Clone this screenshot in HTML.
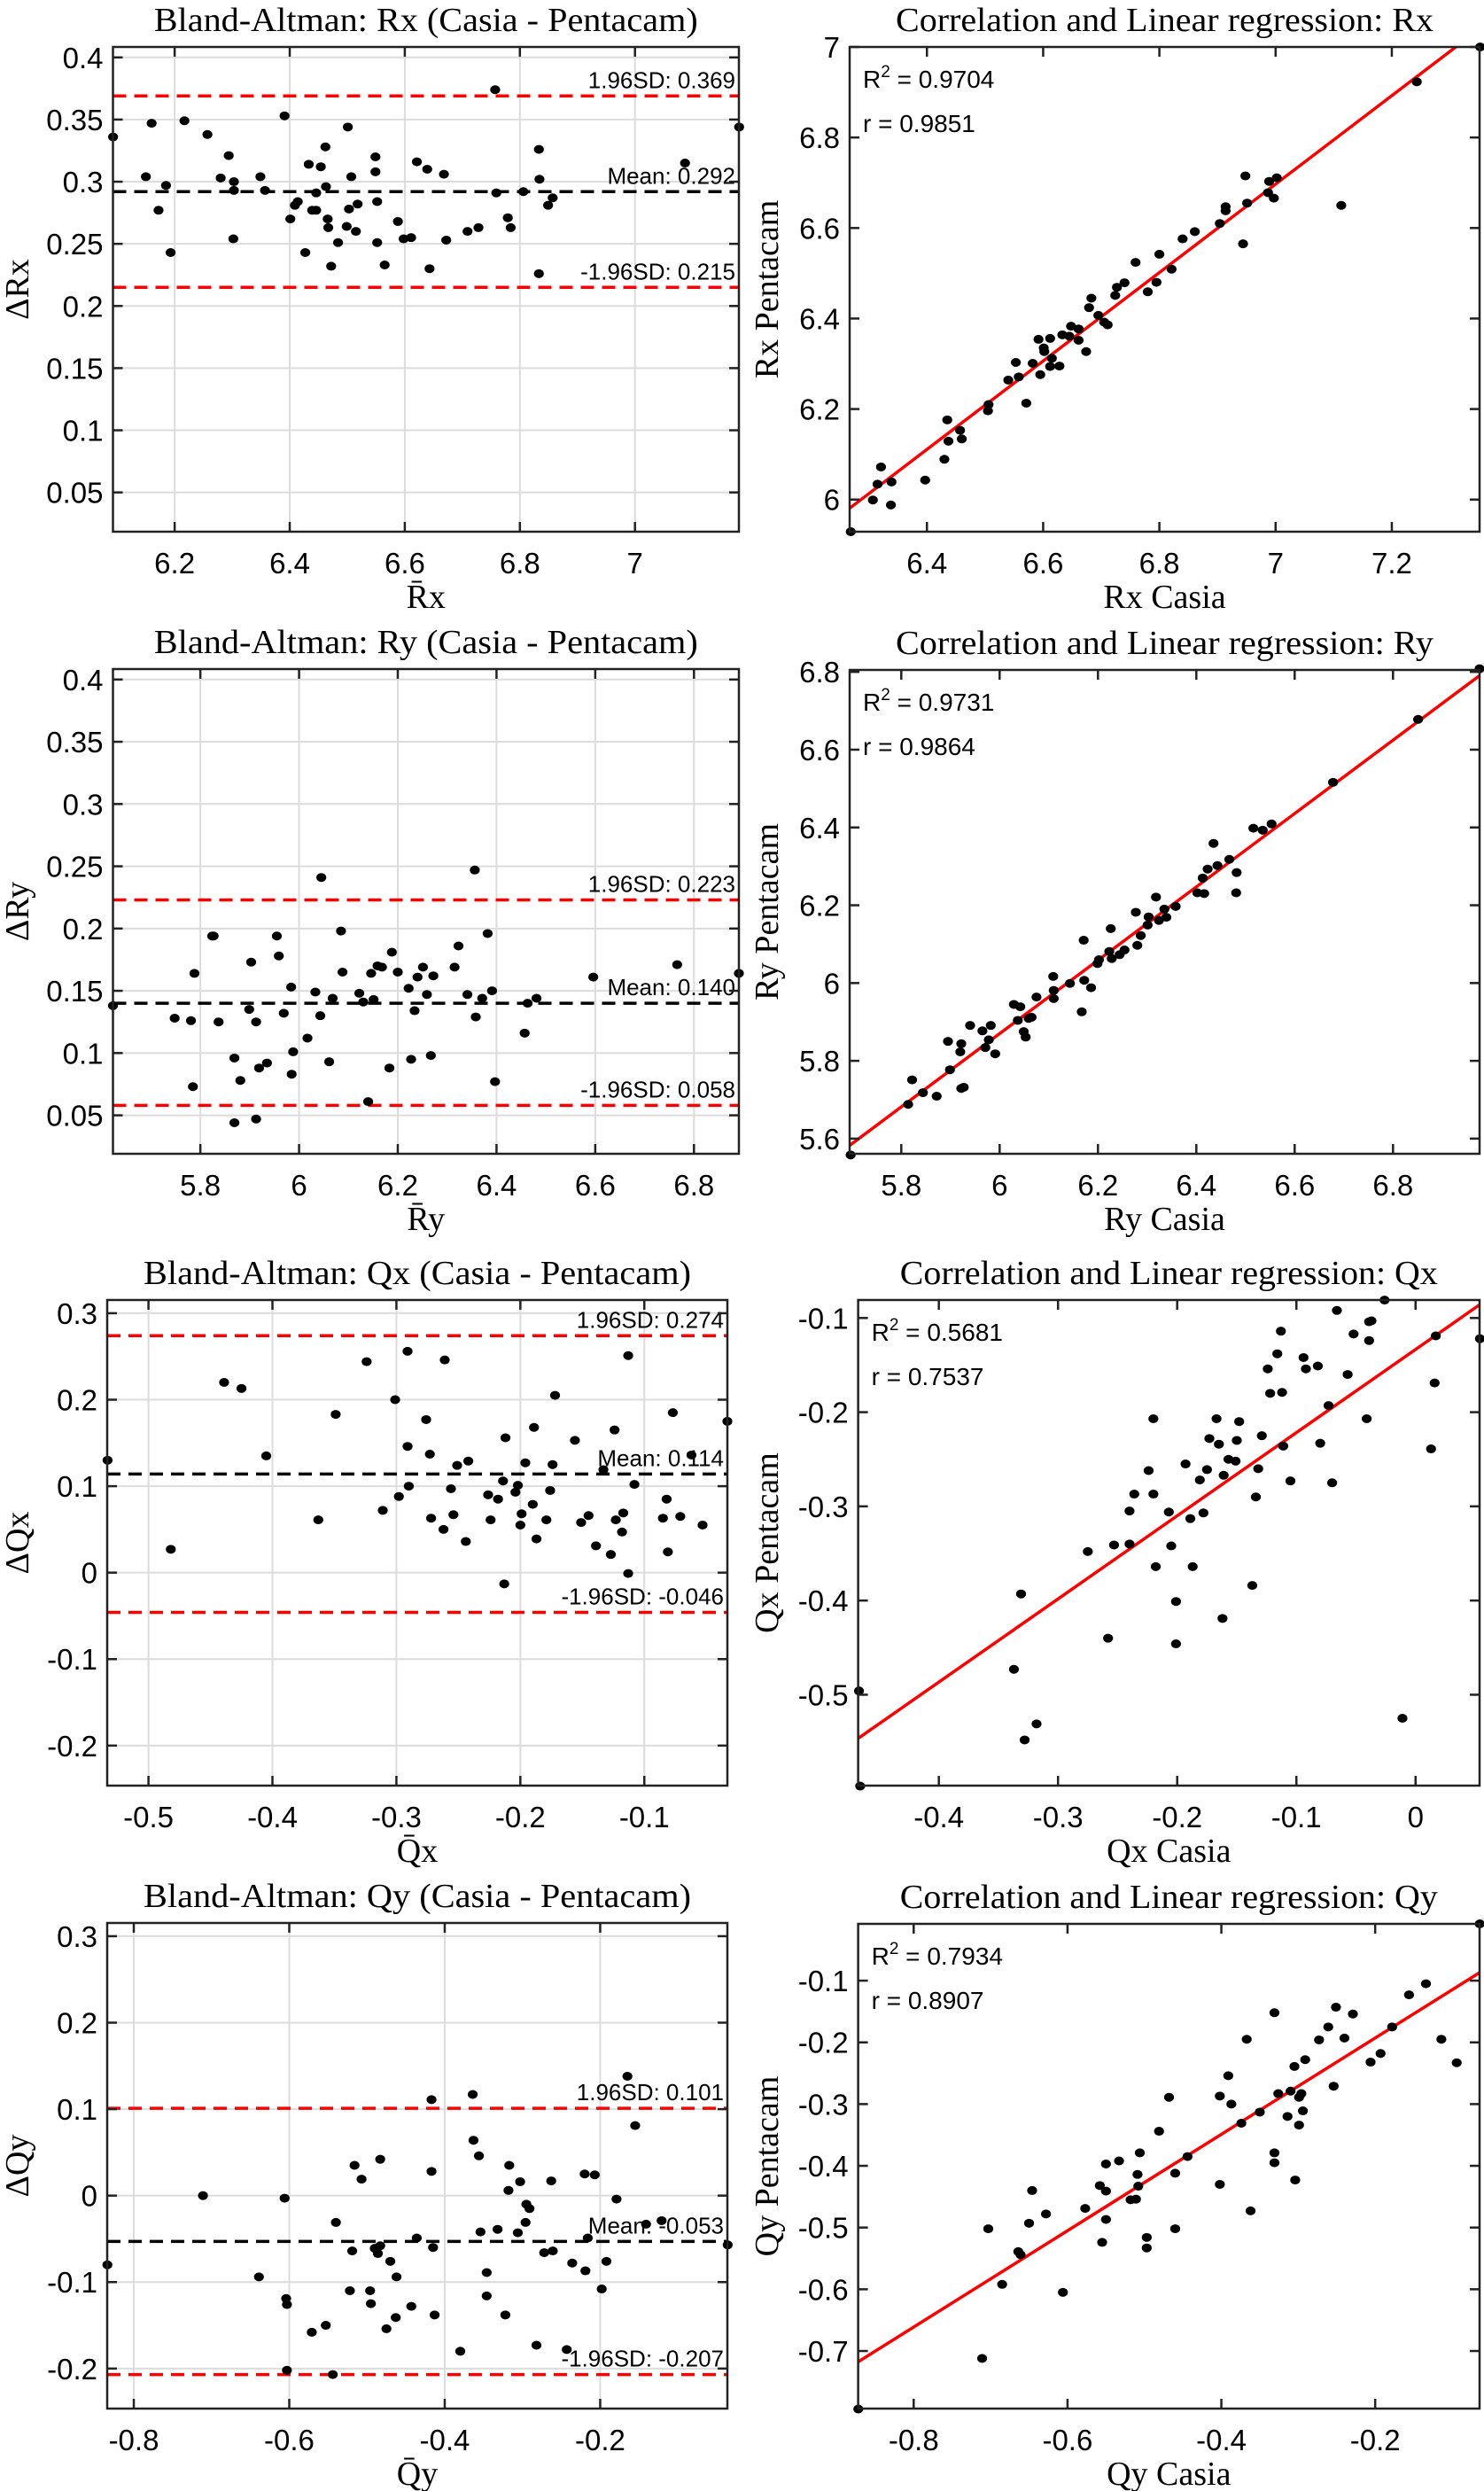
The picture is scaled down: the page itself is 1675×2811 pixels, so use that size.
<!DOCTYPE html>
<html><head><meta charset="utf-8"><title>Bland-Altman and correlation plots</title>
<style>
html,body{margin:0;padding:0;background:#fff;}
svg{display:block;}
</style></head>
<body>
<svg id="fig" xmlns="http://www.w3.org/2000/svg" width="1675" height="2811" viewBox="0 0 1675 2811">
<rect x="0" y="0" width="1675" height="2811" fill="#fff"/>
</svg>
<script>
// ---- Data: Bland-Altman Rx ----
const baRxMean=[6.093,6.150,6.160,6.185,6.172,6.193,6.217,6.257,6.280,6.294,6.303,6.303,6.302,6.349,6.357,6.391,6.401,6.409,6.414,6.427,6.433,6.439,6.446,6.446,6.454,6.462,6.463,6.466,6.467,6.472,6.484,6.499,6.501,6.503,6.507,6.515,6.518,6.549,6.549,6.552,6.552,6.565,6.588,6.598,6.611,6.621,6.639,6.643,6.668,6.672,6.709,6.728,6.757,6.759,6.779,6.784,6.806,6.833,6.834,6.833,6.849,6.857,7.087,7.181];
const baRxDiff=[.336,.304,.347,.297,.277,.243,.349,.338,.303,.321,.300,.293,.254,.304,.293,.353,.270,.281,.284,.243,.314,.277,.277,.291,.312,.328,.296,.270,.263,.232,.251,.264,.344,.278,.304,.260,.282,.320,.308,.284,.251,.233,.268,.254,.255,.316,.310,.230,.306,.253,.260,.263,.374,.291,.271,.263,.292,.326,.302,.226,.281,.287,.315,.344];
const baRxLines=[0.369,0.292,0.215];
// ---- Data: Correlation Rx ----
const corRxCasia=[6.269,6.307,6.315,6.321,6.339,6.338,6.397,6.430,6.435,6.437,6.457,6.460,6.506,6.505,6.540,6.553,6.558,6.571,6.582,6.592,6.595,6.601,6.602,6.612,6.612,6.615,6.628,6.633,6.645,6.648,6.661,6.661,6.674,6.679,6.683,6.695,6.705,6.711,6.724,6.727,6.740,6.759,6.780,6.795,6.800,6.821,6.840,6.861,6.904,6.914,6.914,6.944,6.948,6.951,6.987,6.989,6.997,7.002,7.113,7.243,7.352];
const corRxPenta=[5.929,5.999,6.034,6.072,6.039,5.988,6.043,6.089,6.176,6.129,6.153,6.134,6.210,6.196,6.264,6.303,6.271,6.213,6.301,6.354,6.276,6.335,6.327,6.356,6.294,6.312,6.295,6.364,6.361,6.383,6.377,6.352,6.327,6.424,6.445,6.407,6.392,6.386,6.451,6.469,6.479,6.524,6.459,6.480,6.542,6.509,6.576,6.592,6.610,6.638,6.647,6.565,6.715,6.655,6.678,6.703,6.666,6.711,6.650,6.923,7.000];
const corRxFit=[0.977,-0.142];
const corRxStats=['0.9704','0.9851'];
// ---- Data: Bland-Altman Ry ----
const baRyMean=[5.623,5.748,5.781,5.788,5.785,5.824,5.827,5.837,5.869,5.869,5.881,5.899,5.903,5.913,5.913,5.919,5.935,5.955,5.959,5.969,5.984,5.985,5.988,6.017,6.033,6.045,6.043,6.061,6.068,6.085,6.088,6.122,6.130,6.140,6.146,6.151,6.159,6.168,6.183,6.188,6.200,6.222,6.227,6.234,6.240,6.251,6.259,6.267,6.272,6.315,6.323,6.341,6.356,6.358,6.371,6.382,6.391,6.397,6.457,6.463,6.481,6.596,6.766,6.891];
const baRyDiff=[.138,.128,.126,.164,.073,.194,.194,.125,.096,.044,.078,.135,.173,.125,.047,.088,.092,.194,.178,.132,.153,.083,.101,.112,.149,.241,.130,.093,.144,.198,.165,.148,.141,.061,.164,.143,.170,.169,.088,.181,.165,.152,.095,.134,.161,.169,.147,.098,.162,.169,.186,.147,.247,.129,.144,.196,.150,.077,.116,.140,.144,.161,.171,.164];
const baRyLines=[0.223,0.140,0.058];
// ---- Data: Correlation Ry ----
const corRyCasia=[5.697,5.814,5.822,5.844,5.872,5.895,5.899,5.920,5.922,5.922,5.927,5.940,5.965,5.971,5.978,5.982,5.991,6.029,6.037,6.042,6.049,6.053,6.059,6.065,6.075,6.109,6.110,6.110,6.143,6.167,6.171,6.172,6.186,6.199,6.202,6.223,6.226,6.228,6.244,6.254,6.277,6.280,6.287,6.301,6.303,6.318,6.324,6.335,6.339,6.358,6.402,6.413,6.416,6.423,6.435,6.443,6.467,6.482,6.481,6.516,6.535,6.553,6.678,6.851,6.976];
const corRyPenta=[5.558,5.688,5.751,5.718,5.709,5.850,5.777,5.823,5.844,5.729,5.732,5.891,5.877,5.834,5.854,5.891,5.818,5.945,5.904,5.939,5.875,5.861,5.909,5.912,5.964,6.017,5.981,5.960,5.999,5.926,6.110,6.007,5.988,6.050,6.060,6.081,6.140,6.063,6.073,6.085,6.182,6.097,6.122,6.149,6.170,6.221,6.161,6.190,6.169,6.197,6.232,6.270,6.230,6.293,6.359,6.302,6.318,6.284,6.232,6.398,6.393,6.409,6.516,6.678,6.808];
const corRyFit=[0.943,0.212];
const corRyStats=['0.9731','0.9864'];
// ---- Data: Bland-Altman Qx ----
const baQxMean=[-0.533,-0.482,-0.439,-0.425,-0.405,-0.363,-0.349,-0.324,-0.311,-0.301,-0.298,-0.291,-0.290,-0.291,-0.276,-0.273,-0.272,-0.262,-0.261,-0.256,-0.254,-0.251,-0.244,-0.242,-0.226,-0.224,-0.218,-0.214,-0.212,-0.213,-0.204,-0.202,-0.200,-0.199,-0.196,-0.190,-0.189,-0.187,-0.179,-0.176,-0.174,-0.172,-0.156,-0.151,-0.145,-0.139,-0.133,-0.127,-0.124,-0.123,-0.118,-0.117,-0.113,-0.113,-0.108,-0.085,-0.082,-0.081,-0.077,-0.071,-0.062,-0.053,-0.033];
const baQxDiff=[.130,.027,.220,.213,.135,.061,.183,.244,.072,.200,.088,.146,.100,.256,.177,.137,.063,.050,.246,.097,.067,.124,.036,.129,.090,.061,.085,.106,.156,-.013,.093,.101,.055,.068,.127,.079,.168,.039,.061,.095,.125,.205,.153,.058,.066,.031,.119,.021,.165,.061,.047,.069,.251,-.001,.102,.063,.085,.024,.185,.065,.136,.055,.175];
const baQxLines=[0.274,0.114,-0.046];
// ---- Data: Correlation Qx ----
const corQxCasia=[-0.467,-0.466,-0.337,-0.331,-0.328,-0.318,-0.275,-0.258,-0.253,-0.240,-0.240,-0.236,-0.224,-0.220,-0.220,-0.218,-0.207,-0.205,-0.201,-0.201,-0.193,-0.189,-0.187,-0.181,-0.178,-0.175,-0.173,-0.167,-0.165,-0.162,-0.161,-0.157,-0.151,-0.150,-0.148,-0.137,-0.134,-0.132,-0.129,-0.124,-0.122,-0.116,-0.113,-0.112,-0.111,-0.105,-0.094,-0.092,-0.082,-0.080,-0.073,-0.070,-0.066,-0.057,-0.052,-0.041,-0.039,-0.039,-0.037,-0.026,-0.011,0.013,0.016,0.017,0.054];
const corQxPenta=[-0.496,-0.597,-0.473,-0.393,-0.548,-0.531,-0.348,-0.440,-0.341,-0.305,-0.340,-0.287,-0.262,-0.207,-0.287,-0.364,-0.306,-0.342,-0.401,-0.446,-0.255,-0.313,-0.364,-0.272,-0.307,-0.261,-0.228,-0.207,-0.234,-0.419,-0.267,-0.250,-0.252,-0.230,-0.210,-0.384,-0.290,-0.260,-0.225,-0.154,-0.180,-0.138,-0.114,-0.179,-0.236,-0.273,-0.142,-0.154,-0.151,-0.233,-0.193,-0.275,-0.092,-0.160,-0.117,-0.207,-0.104,-0.124,-0.103,-0.081,-0.525,-0.239,-0.169,-0.119,-0.122];
const corQxFit=[0.883,-0.1334];
const corQxStats=['0.5681','0.7537'];
// ---- Data: Bland-Altman Qy ----
const baQyMean=[-0.834,-0.711,-0.639,-0.606,-0.604,-0.603,-0.603,-0.571,-0.553,-0.544,-0.540,-0.522,-0.519,-0.516,-0.507,-0.496,-0.495,-0.490,-0.486,-0.483,-0.483,-0.475,-0.470,-0.462,-0.463,-0.443,-0.436,-0.417,-0.417,-0.415,-0.413,-0.380,-0.364,-0.363,-0.356,-0.354,-0.346,-0.346,-0.332,-0.322,-0.318,-0.317,-0.306,-0.303,-0.296,-0.295,-0.291,-0.282,-0.272,-0.263,-0.261,-0.243,-0.236,-0.220,-0.219,-0.216,-0.207,-0.198,-0.192,-0.179,-0.165,-0.155,-0.141,-0.121,-0.036];
const baQyDiff=[-.080,.000,-.094,-.003,-.119,-.126,-.202,-.158,-.150,-.207,-.031,-.110,-.064,.035,.019,-.110,-.125,-.061,-.067,-.058,.042,-.154,-.076,-.094,-.141,-.128,-.049,.111,.028,-.060,-.138,-.180,.117,.064,.046,-.042,-.089,-.116,-.039,-.138,.006,.035,-.043,.016,-.031,-.010,-.015,-.173,-.066,.017,-.064,-.178,-.078,.025,-.087,-.049,.024,-.108,-.076,-.004,.138,.081,-.033,-.029,-.057];
const baQyLines=[0.101,-0.053,-0.207];
// ---- Data: Correlation Qy ----
const corQyCasia=[-0.872,-0.711,-0.703,-0.685,-0.664,-0.661,-0.650,-0.646,-0.628,-0.606,-0.577,-0.558,-0.555,-0.550,-0.550,-0.550,-0.533,-0.518,-0.511,-0.509,-0.508,-0.506,-0.497,-0.497,-0.481,-0.468,-0.460,-0.460,-0.444,-0.402,-0.402,-0.391,-0.387,-0.374,-0.367,-0.362,-0.350,-0.331,-0.331,-0.331,-0.326,-0.314,-0.310,-0.305,-0.304,-0.299,-0.299,-0.296,-0.294,-0.291,-0.273,-0.261,-0.254,-0.251,-0.240,-0.229,-0.206,-0.193,-0.178,-0.156,-0.134,-0.114,-0.094,-0.064];
const corQyPenta=[-0.794,-0.712,-0.502,-0.592,-0.539,-0.544,-0.493,-0.440,-0.478,-0.605,-0.469,-0.432,-0.524,-0.397,-0.441,-0.487,-0.392,-0.455,-0.454,-0.414,-0.433,-0.379,-0.516,-0.533,-0.344,-0.289,-0.412,-0.502,-0.385,-0.287,-0.430,-0.254,-0.300,-0.331,-0.195,-0.473,-0.313,-0.379,-0.395,-0.152,-0.283,-0.320,-0.279,-0.239,-0.423,-0.289,-0.334,-0.283,-0.311,-0.228,-0.196,-0.175,-0.271,-0.143,-0.193,-0.154,-0.232,-0.218,-0.175,-0.123,-0.105,-0.195,-0.233,-0.008];
const corQyFit=[0.7805,-0.0368];
const corQyStats=['0.7934','0.8907'];
// ---- Tick arrays ----
const ticksRxMeanX=[6.2,6.4,6.6,6.8,7]; const ticksRxMeanXLab=['6.2','6.4','6.6','6.8','7'];
const ticksDiffRY=[0.05,0.1,0.15,0.2,0.25,0.3,0.35,0.4]; const ticksDiffRYLab=['0.05','0.1','0.15','0.2','0.25','0.3','0.35','0.4'];
const ticksRxCorX=[6.4,6.6,6.8,7,7.2]; const ticksRxCorXLab=['6.4','6.6','6.8','7','7.2'];
const ticksRxCorY=[6,6.2,6.4,6.6,6.8,7]; const ticksRxCorYLab=['6','6.2','6.4','6.6','6.8','7'];
const ticksRyMeanX=[5.8,6,6.2,6.4,6.6,6.8]; const ticksRyMeanXLab=['5.8','6','6.2','6.4','6.6','6.8'];
const ticksRyCorX=[5.8,6,6.2,6.4,6.6,6.8]; const ticksRyCorXLab=['5.8','6','6.2','6.4','6.6','6.8'];
const ticksRyCorY=[5.6,5.8,6,6.2,6.4,6.6,6.8]; const ticksRyCorYLab=['5.6','5.8','6','6.2','6.4','6.6','6.8'];
const ticksQxMeanX=[-0.5,-0.4,-0.3,-0.2,-0.1]; const ticksQxMeanXLab=['-0.5','-0.4','-0.3','-0.2','-0.1'];
const ticksDiffQY=[-0.2,-0.1,0,0.1,0.2,0.3]; const ticksDiffQYLab=['-0.2','-0.1','0','0.1','0.2','0.3'];
const ticksQxCorX=[-0.4,-0.3,-0.2,-0.1,0]; const ticksQxCorXLab=['-0.4','-0.3','-0.2','-0.1','0'];
const ticksQxCorY=[-0.5,-0.4,-0.3,-0.2,-0.1]; const ticksQxCorYLab=['-0.5','-0.4','-0.3','-0.2','-0.1'];
const ticksQyMeanX=[-0.8,-0.6,-0.4,-0.2]; const ticksQyMeanXLab=['-0.8','-0.6','-0.4','-0.2'];
const ticksQyCorX=[-0.8,-0.6,-0.4,-0.2]; const ticksQyCorXLab=['-0.8','-0.6','-0.4','-0.2'];
const ticksQyCorY=[-0.7,-0.6,-0.5,-0.4,-0.3,-0.2,-0.1]; const ticksQyCorYLab=['-0.7','-0.6','-0.5','-0.4','-0.3','-0.2','-0.1'];

const NS='http://www.w3.org/2000/svg';
const svg=document.getElementById('fig');
const SANS='"Liberation Sans", Arial, sans-serif';
const SERIF='"Liberation Serif", "Times New Roman", serif';
function E(tag,attrs,parent){const el=document.createElementNS(NS,tag);for(const k in attrs)el.setAttribute(k,attrs[k]);parent.appendChild(el);return el;}
function T(parent,str,x,y,size,anchor,fam){const el=E('text',{x:x,y:y,'font-size':size,'text-anchor':anchor,'font-family':fam,fill:'#000'},parent);el.textContent=str;return el;}

let clipId=0;
function panel(p){
  const g=E('g',{},svg);
  
  
  const sx=v=>p.x0+(v-p.xr[0])/(p.xr[1]-p.xr[0])*(p.x1-p.x0);
  const sy=v=>p.y1-(v-p.yr[0])/(p.yr[1]-p.yr[0])*(p.y1-p.y0);
  // grid
  if(p.grid){
    p.xt.forEach(v=>{const l=E('line',{x1:sx(v),x2:sx(v),y1:p.y0,y2:p.y1,stroke:'#dcdcdc','stroke-width':2},g);
      
      });
    p.yt.forEach(v=>{const l=E('line',{x1:p.x0,x2:p.x1,y1:sy(v),y2:sy(v),stroke:'#dcdcdc','stroke-width':2},g);
      
      });
  }
  // BA lines
  if(p.ba){
    const cols=['#ff0000','#000000','#ff0000'];
    const nm=['upper-limit-line','mean-line','lower-limit-line'];
    const lab=['1.96SD: '+p.ba[0].toFixed(3),'Mean: '+p.ba[1].toFixed(3),'-1.96SD: '+p.ba[2].toFixed(3)];
    p.ba.forEach((v,i)=>{
      const l=E('line',{x1:p.x0,x2:p.x1,y1:sy(v),y2:sy(v),stroke:cols[i],'stroke-width':3.5,'stroke-dasharray':'15 9'},g);
      
      
      const t=T(g,lab[i],p.x1-4,sy(v)-9,26,'end',SANS);
      
      
    });
  }
  // regression
  if(p.fit){
    clipId++;
    const cp=E('clipPath',{id:'cp'+clipId},g);
    E('rect',{x:p.x0,y:p.y0,width:p.x1-p.x0,height:p.y1-p.y0},cp);
    const xa=p.xr[0],xb=p.xr[1];
    const l=E('line',{x1:sx(xa),y1:sy(p.fit[0]*xa+p.fit[1]),x2:sx(xb),y2:sy(p.fit[0]*xb+p.fit[1]),stroke:'#ff0000','stroke-width':3.5,'clip-path':'url(#cp'+clipId+')'},g);
    
    
    const t1=E('text',{x:p.x0+15,y:p.y0+46,'font-size':28,'font-family':SANS,fill:'#000'},g);
    
    
    const a=E('tspan',{},t1);a.textContent='R';
    const b=E('tspan',{dy:-12,'font-size':19},t1);b.textContent='2';
    const c=E('tspan',{dy:12},t1);c.textContent=' = '+p.stats[0];
    const t2=T(g,'r = '+p.stats[1],p.x0+15,p.y0+96,28,'start',SANS);
    
    
  }
  // points
  p.xs.forEach((v,i)=>{
    const c=E('ellipse',{cx:sx(v),cy:sy(p.ys[i]),rx:5.6,ry:5,fill:'#000'},g);
    
    
  });
  // axes box
  const box=E('rect',{x:p.x0,y:p.y0,width:p.x1-p.x0,height:p.y1-p.y0,fill:'none',stroke:'#222','stroke-width':2.5},g);
  
  
  // ticks + labels
  p.xt.forEach((v,i)=>{
    const x=sx(v);
    E('line',{x1:x,x2:x,y1:p.y1,y2:p.y1-11,stroke:'#222','stroke-width':2.5},g);
    E('line',{x1:x,x2:x,y1:p.y0,y2:p.y0+11,stroke:'#222','stroke-width':2.5},g);
    const t=T(g,p.xtl[i],x,p.y1+47,33,'middle',SANS);
    
    
  });
  p.yt.forEach((v,i)=>{
    const y=sy(v);
    E('line',{x1:p.x0,x2:p.x0+11,y1:y,y2:y,stroke:'#222','stroke-width':2.5},g);
    E('line',{x1:p.x1,x2:p.x1-11,y1:y,y2:y,stroke:'#222','stroke-width':2.5},g);
    const t=T(g,p.ytl[i],p.x0-11,y+12,33,'end',SANS);
    
    
  });
  // title
  const cx=(p.x0+p.x1)/2;
  const tt=T(g,p.title,cx,p.y0-18,38,'middle',SERIF);
  tt.setAttribute('textLength',p.tl);
  tt.setAttribute('lengthAdjust','spacingAndGlyphs');
  
  
  const xl=T(g,p.xlabel,cx,p.y1+86,38,'middle',SERIF);
  
  
  const ym=(p.y0+p.y1)/2;
  const yl=T(g,p.ylabel,0,0,38,'middle',SERIF);
  yl.setAttribute('transform','translate('+p.ylx+','+ym+') rotate(-90)');
  
  
}

const L0=127.5,L1=834,R0=959,R1=1670,Q0=121,Q1=821,S0=968.6;
panel({name:'bland-altman-rx',x0:L0,x1:L1,y0:53,y1:600,xr:[6.0928,7.1806],yr:[0.0184,0.4084],xt:ticksRxMeanX,xtl:ticksRxMeanXLab,yt:ticksDiffRY,ytl:ticksDiffRYLab,grid:true,title:'Bland-Altman: Rx (Casia - Pentacam)',tl:614,xlabel:'R\u0304x',ylabel:'\u0394Rx',ylx:32,xs:baRxMean,ys:baRxDiff,ba:baRxLines});
panel({name:'correlation-rx',x0:R0,x1:R1,y0:53,y1:600,xr:[6.267,7.351],yr:[5.929,7.0],xt:ticksRxCorX,xtl:ticksRxCorXLab,yt:ticksRxCorY,ytl:ticksRxCorYLab,grid:false,title:'Correlation and Linear regression: Rx',tl:607,xlabel:'Rx Casia',ylabel:'Rx Pentacam',ylx:878,xs:corRxCasia,ys:corRxPenta,fit:corRxFit,stats:corRxStats});
panel({name:'bland-altman-ry',x0:L0,x1:L1,y0:755,y1:1302,xr:[5.623,6.891],yr:[0.0191,0.4084],xt:ticksRyMeanX,xtl:ticksRyMeanXLab,yt:ticksDiffRY,ytl:ticksDiffRYLab,grid:true,title:'Bland-Altman: Ry (Casia - Pentacam)',tl:614,xlabel:'R\u0304y',ylabel:'\u0394Ry',ylx:32,xs:baRyMean,ys:baRyDiff,ba:baRyLines});
panel({name:'correlation-ry',x0:R0,x1:R1,y0:756,y1:1302,xr:[5.695,6.976],yr:[5.561,6.805],xt:ticksRyCorX,xtl:ticksRyCorXLab,yt:ticksRyCorY,ytl:ticksRyCorYLab,grid:false,title:'Correlation and Linear regression: Ry',tl:607,xlabel:'Ry Casia',ylabel:'Ry Pentacam',ylx:878,xs:corRyCasia,ys:corRyPenta,fit:corRyFit,stats:corRyStats});
panel({name:'bland-altman-qx',x0:Q0,x1:Q1,y0:1467,y1:2015,xr:[-0.5333,-0.033],yr:[-0.2463,0.3153],xt:ticksQxMeanX,xtl:ticksQxMeanXLab,yt:ticksDiffQY,ytl:ticksDiffQYLab,grid:true,title:'Bland-Altman: Qx (Casia - Pentacam)',tl:618,xlabel:'Q\u0304x',ylabel:'\u0394Qx',ylx:32,xs:baQxMean,ys:baQxDiff,ba:baQxLines});
panel({name:'correlation-qx',x0:S0,x1:R1,y0:1467,y1:2015,xr:[-0.4677,0.0537],yr:[-0.5965,-0.0809],xt:ticksQxCorX,xtl:ticksQxCorXLab,yt:ticksQxCorY,ytl:ticksQxCorYLab,grid:false,title:'Correlation and Linear regression: Qx',tl:607,xlabel:'Qx Casia',ylabel:'Qx Pentacam',ylx:878,xs:corQxCasia,ys:corQxPenta,fit:corQxFit,stats:corQxStats});
panel({name:'bland-altman-qy',x0:Q0,x1:Q1,y0:2170,y1:2718,xr:[-0.8342,-0.0364],yr:[-0.2463,0.3153],xt:ticksQyMeanX,xtl:ticksQyMeanXLab,yt:ticksDiffQY,ytl:ticksDiffQYLab,grid:true,title:'Bland-Altman: Qy (Casia - Pentacam)',tl:618,xlabel:'Q\u0304y',ylabel:'\u0394Qy',ylx:32,xs:baQyMean,ys:baQyDiff,ba:baQyLines});
panel({name:'correlation-qy',x0:S0,x1:R1,y0:2171,y1:2718,xr:[-0.8722,-0.0643],yr:[-0.7933,-0.008],xt:ticksQyCorX,xtl:ticksQyCorXLab,yt:ticksQyCorY,ytl:ticksQyCorYLab,grid:false,title:'Correlation and Linear regression: Qy',tl:607,xlabel:'Qy Casia',ylabel:'Qy Pentacam',ylx:878,xs:corQyCasia,ys:corQyPenta,fit:corQyFit,stats:corQyStats});
</script>
</body></html>
